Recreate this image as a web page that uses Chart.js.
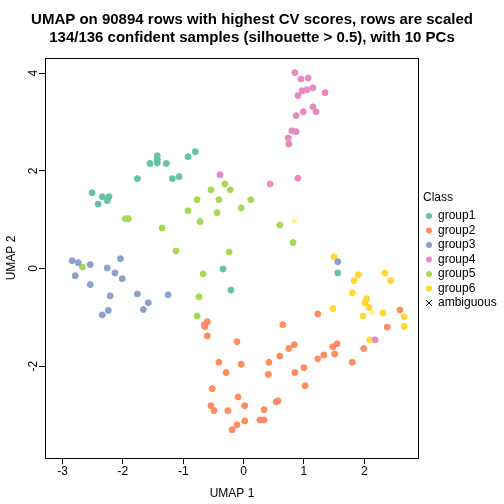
<!DOCTYPE html>
<html>
<head>
<meta charset="utf-8">
<script src="https://cdn.jsdelivr.net/npm/chart.js@4/dist/chart.umd.min.js"></script>
<style>
  html, body { margin: 0; padding: 0; background: #fff; }
  #wrap { width: 504px; height: 504px; }
</style>
</head>
<body>
<div id="wrap"><canvas id="umap" width="504" height="504"></canvas></div>
<script>
// --- DATA (UMAP coordinates) ---
const group1 = [[-1.43,2.31],[-1.43,2.23],[-1.55,2.15],[-1.43,2.16],[-1.28,2.15],[-0.92,2.29],[-0.80,2.39],
  [-1.76,1.84],[-1.18,1.84],[-1.07,1.88],[-2.51,1.55],[-2.34,1.47],[-2.23,1.47],[-2.26,1.39],[-2.41,1.32],
  [-0.34,-0.01],[-0.21,-0.44],[1.56,-0.09]];
const group2 = [[1.23,-0.93],[2.59,-0.85],[2.38,-1.20],[0.65,-1.15],[-0.65,-1.15],[-0.60,-1.09],[-0.64,-1.19],
  [-0.60,-1.38],[-0.11,-1.50],[1.99,-1.64],[1.55,-1.54],[1.48,-1.60],[0.84,-1.56],[0.75,-1.64],[1.51,-1.75],
  [1.33,-1.77],[1.23,-1.85],[0.60,-1.79],[-0.41,-1.92],[-0.04,-1.96],[0.42,-1.92],[1.80,-1.92],[-0.29,-2.13],
  [0.41,-2.17],[0.85,-2.13],[1.00,-2.03],[1.02,-2.40],[-0.52,-2.46],[-0.09,-2.63],[-0.54,-2.81],[-0.49,-2.91],
  [-0.26,-2.91],[0.02,-2.81],[0.34,-2.89],[0.54,-2.73],[0.57,-2.71],[-0.11,-3.20],[0.02,-3.12],[0.27,-3.10],
  [0.34,-3.10],[-0.19,-3.30]];
const group3 = [[-2.84,0.16],[-2.74,0.12],[-2.54,0.08],[-2.04,0.20],[-2.79,-0.15],[-2.26,0.01],[-2.13,-0.09],
  [-2.01,-0.21],[-2.54,-0.33],[-2.21,-0.56],[-1.76,-0.52],[-1.25,-0.54],[-1.58,-0.70],[-1.66,-0.84],
  [-2.24,-0.86],[-2.34,-0.95],[1.56,0.14]];
const group4 = [[0.85,4.01],[0.95,3.88],[1.07,3.90],[0.97,3.64],[1.05,3.66],[1.15,3.70],[1.35,3.60],[0.90,3.54],
  [1.15,3.31],[0.99,3.21],[1.20,3.21],[0.87,3.13],[0.80,2.82],[0.87,2.80],[0.74,2.67],[0.75,2.55],[0.90,1.85],
  [0.44,1.73],[-0.39,1.92],[2.18,-1.46]];
const group5 = [[-0.31,1.73],[-0.54,1.61],[-0.22,1.61],[-0.77,1.41],[-0.41,1.41],[0.12,1.41],[-0.04,1.24],
  [-0.92,1.18],[-0.44,1.14],[-0.72,0.96],[-1.96,1.02],[-1.91,1.02],[-1.35,0.83],[0.60,0.89],[0.82,0.53],
  [-1.12,0.36],[-0.24,0.34],[-2.67,0.03],[-0.67,-0.11],[-0.74,-0.58],[-0.77,-0.97]];
const group6 = [[1.50,0.24],[1.90,-0.13],[2.34,-0.09],[1.83,-0.25],[2.44,-0.25],[1.80,-0.50],[2.04,-0.62],
  [2.01,-0.70],[2.08,-0.80],[1.48,-0.82],[1.98,-0.97],[2.31,-0.91],[2.66,-0.99],[2.66,-1.19],[2.09,-1.46]];
const ambiguous = [[0.84,0.98],[2.13,-0.90]];

const classNames = ['group1', 'group2', 'group3', 'group4', 'group5', 'group6', 'ambiguous'];
const classData = [group1, group2, group3, group4, group5, group6, ambiguous];
const classColors = ['#66C2A5', '#FC8D62', '#8DA0CB', '#E78AC3', '#A6D854', '#FFD92F', '#FFD92F'];
const xTicks = [-3, -2, -1, 0, 1, 2];
const yTicks = [-2, 0, 2, 4];

const FONT = 'Helvetica, "Liberation Sans", Arial, sans-serif';

// --- PLUGIN: frame, titles, rotated y labels, axis titles, legend ---
const decorations = {
    id: 'decorations',
    afterDraw(chart) {
        const { ctx, chartArea: a } = chart;
        const yScale = chart.scales.y;
        ctx.save();
        ctx.strokeStyle = '#000';
        ctx.lineWidth = 1;
        ctx.strokeRect(a.left + 0.5, a.top + 0.5, a.width, a.height);

        ctx.fillStyle = '#000';
        ctx.textAlign = 'center';
        ctx.textBaseline = 'middle';
        ctx.font = `bold 15px ${FONT}`;
        ctx.fillText('UMAP on 90894 rows with highest CV scores, rows are scaled', 252, 20);
        ctx.fillText('134/136 confident samples (silhouette > 0.5), with 10 PCs', 252, 38);

        ctx.font = `12px ${FONT}`;
        ctx.fillText('UMAP 1', 232, 494);
        ctx.save();
        ctx.translate(12, 258);
        ctx.rotate(-Math.PI / 2);
        ctx.fillText('UMAP 2', 0, 0);
        ctx.restore();

        // rotated y tick labels, R style
        yTicks.forEach(v => {
            ctx.save();
            ctx.translate(34, yScale.getPixelForValue(v));
            ctx.rotate(-Math.PI / 2);
            ctx.fillText(String(v).replace('-', '-'), 0, 0);
            ctx.restore();
        });

        // legend
        ctx.textAlign = 'left';
        ctx.fillText('Class', 423, 198);
        classNames.forEach((name, i) => {
            const y = 216 + i * 14.5;
            const x = 429;
            ctx.fillStyle = classColors[i];
            if (name === 'ambiguous') {
                ctx.strokeStyle = '#000';
                ctx.beginPath();
                ctx.moveTo(x - 3, y - 3); ctx.lineTo(x + 3, y + 3);
                ctx.moveTo(x + 3, y - 3); ctx.lineTo(x - 3, y + 3);
                ctx.stroke();
            } else {
                ctx.beginPath();
                ctx.arc(x, y, 3, 0, Math.PI * 2);
                ctx.fill();
            }
            ctx.fillStyle = '#000';
            ctx.fillText(name, 438, y);
        });
        ctx.restore();
    }
};

const datasets = classNames.map((name, i) => ({
    label: name,
    data: classData[i].map(([x, y]) => ({ x, y })),
    backgroundColor: classColors[i],
    borderColor: classColors[i],
    pointStyle: name === 'ambiguous' ? 'crossRot' : 'circle',
    pointRadius: name === 'ambiguous' ? 3.5 : 3,
    pointBorderWidth: 1
}));

const keepTicks = list => scale => {
    scale.ticks = list.map(v => ({ value: v }));
};

new Chart(document.getElementById('umap'), {
    type: 'scatter',
    data: { datasets },
    options: {
        responsive: false,
        animation: false,
        layout: { padding: { left: 0, top: 58, right: 86, bottom: 0 } },
        plugins: { legend: { display: false }, tooltip: { enabled: false } },
        scales: {
            x: {
                type: 'linear', min: -3.29, max: 2.89,
                afterBuildTicks: keepTicks(xTicks),
                afterFit: s => { s.height = 46; },
                grid: { drawOnChartArea: false, color: '#000', tickLength: 6 },
                border: { display: false },
                ticks: { color: '#000', font: { size: 12, family: FONT }, padding: 0, maxRotation: 0 }
            },
            y: {
                type: 'linear', min: -3.88, max: 4.31,
                afterBuildTicks: keepTicks(yTicks),
                afterFit: s => { s.width = 45; },
                grid: { drawOnChartArea: false, color: '#000', tickLength: 6 },
                border: { display: false },
                ticks: { color: 'rgba(0,0,0,0)', font: { size: 12, family: FONT }, padding: 4 }
            }
        }
    },
    plugins: [decorations]
});
</script>
</body>
</html>
